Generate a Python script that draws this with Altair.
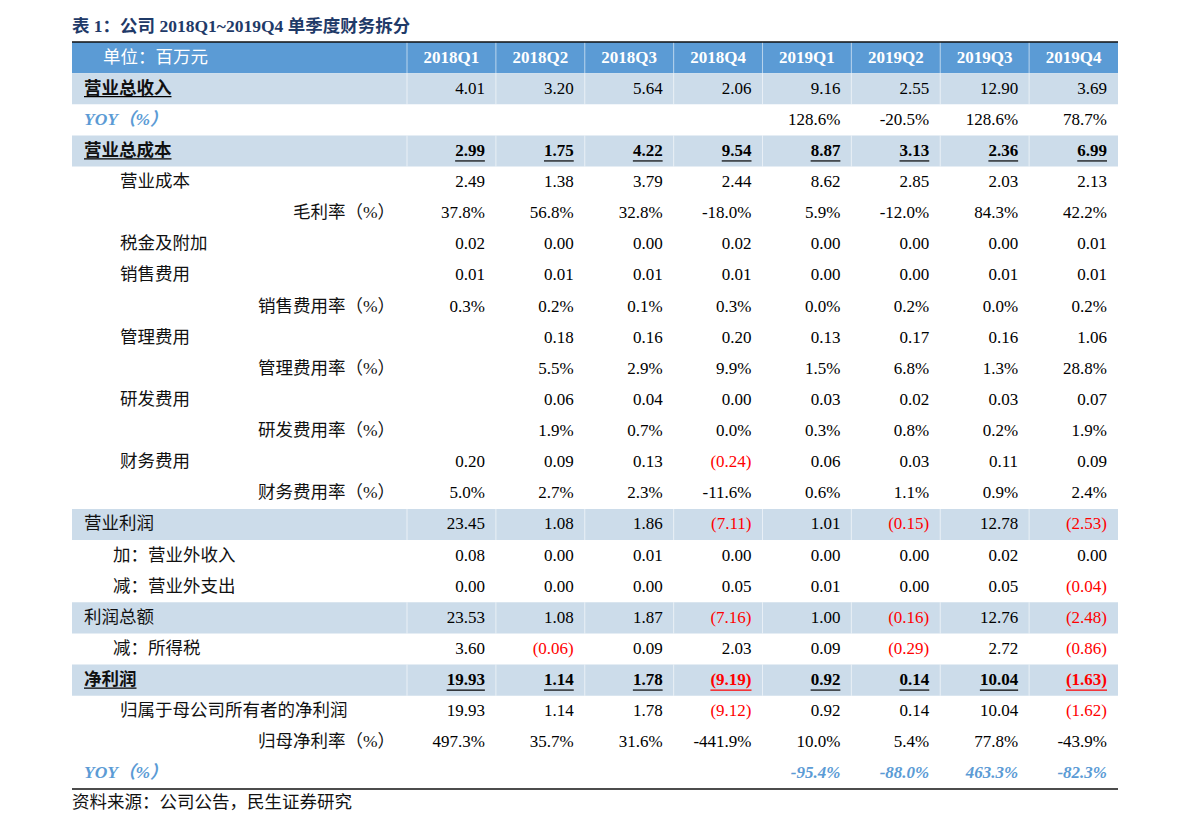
import altair as alt
import pandas as pd

# ---------------- data ----------------
quarters = ["2018Q1", "2018Q2", "2018Q3", "2018Q4", "2019Q1", "2019Q2", "2019Q3", "2019Q4"]
title_text = "表 1：公司 2018Q1~2019Q4 单季度财务拆分"
unit_text = "单位：百万元"
source_text = "资料来源：公司公告，民生证券研究"

N = None
revenue = [4.01, 3.20, 5.64, 2.06, 9.16, 2.55, 12.90, 3.69]
revenue_yoy = [N, N, N, N, 128.6, -20.5, 128.6, 78.7]
total_cost = [2.99, 1.75, 4.22, 9.54, 8.87, 3.13, 2.36, 6.99]
op_cost = [2.49, 1.38, 3.79, 2.44, 8.62, 2.85, 2.03, 2.13]
gross_margin = [37.8, 56.8, 32.8, -18.0, 5.9, -12.0, 84.3, 42.2]
tax_surcharge = [0.02, 0.00, 0.00, 0.02, 0.00, 0.00, 0.00, 0.01]
selling_exp = [0.01, 0.01, 0.01, 0.01, 0.00, 0.00, 0.01, 0.01]
selling_ratio = [0.3, 0.2, 0.1, 0.3, 0.0, 0.2, 0.0, 0.2]
admin_exp = [N, 0.18, 0.16, 0.20, 0.13, 0.17, 0.16, 1.06]
admin_ratio = [N, 5.5, 2.9, 9.9, 1.5, 6.8, 1.3, 28.8]
rd_exp = [N, 0.06, 0.04, 0.00, 0.03, 0.02, 0.03, 0.07]
rd_ratio = [N, 1.9, 0.7, 0.0, 0.3, 0.8, 0.2, 1.9]
fin_exp = [0.20, 0.09, 0.13, -0.24, 0.06, 0.03, 0.11, 0.09]
fin_ratio = [5.0, 2.7, 2.3, -11.6, 0.6, 1.1, 0.9, 2.4]
op_profit = [23.45, 1.08, 1.86, -7.11, 1.01, -0.15, 12.78, -2.53]
nonop_income = [0.08, 0.00, 0.01, 0.00, 0.00, 0.00, 0.02, 0.00]
nonop_exp = [0.00, 0.00, 0.00, 0.05, 0.01, 0.00, 0.05, -0.04]
total_profit = [23.53, 1.08, 1.87, -7.16, 1.00, -0.16, 12.76, -2.48]
income_tax = [3.60, -0.06, 0.09, 2.03, 0.09, -0.29, 2.72, -0.86]
net_profit = [19.93, 1.14, 1.78, -9.19, 0.92, 0.14, 10.04, -1.63]
parent_np = [19.93, 1.14, 1.78, -9.12, 0.92, 0.14, 10.04, -1.62]
parent_margin = [497.3, 35.7, 31.6, -441.9, 10.0, 5.4, 77.8, -43.9]
np_yoy = [N, N, N, N, -95.4, -88.0, 463.3, -82.3]

# (label, indent level, kind, label style, value style, shaded, values)
rows = [
    ("营业总收入", "0", "amt", "ub", "n", True, revenue),
    ("YOY（%）", "0", "pct", "yoy", "n", False, revenue_yoy),
    ("营业总成本", "0", "amt", "ub", "b", True, total_cost),
    ("营业成本", "1", "amt", "n", "n", False, op_cost),
    ("毛利率（%）", "2", "pct", "n", "n", False, gross_margin),
    ("税金及附加", "1", "amt", "n", "n", False, tax_surcharge),
    ("销售费用", "1", "amt", "n", "n", False, selling_exp),
    ("销售费用率（%）", "2", "pct", "n", "n", False, selling_ratio),
    ("管理费用", "1", "amt", "n", "n", False, admin_exp),
    ("管理费用率（%）", "2", "pct", "n", "n", False, admin_ratio),
    ("研发费用", "1", "amt", "n", "n", False, rd_exp),
    ("研发费用率（%）", "2", "pct", "n", "n", False, rd_ratio),
    ("财务费用", "1", "amt", "n", "n", False, fin_exp),
    ("财务费用率（%）", "2", "pct", "n", "n", False, fin_ratio),
    ("营业利润", "0", "amt", "n", "n", True, op_profit),
    ("加：营业外收入", "1b", "amt", "n", "n", False, nonop_income),
    ("减：营业外支出", "1b", "amt", "n", "n", False, nonop_exp),
    ("利润总额", "0", "amt", "n", "n", True, total_profit),
    ("减：所得税", "1b", "amt", "n", "n", False, income_tax),
    ("净利润", "0", "amt", "ub", "b", True, net_profit),
    ("归属于母公司所有者的净利润", "1", "amt", "n", "n", False, parent_np),
    ("归母净利率（%）", "2", "pct", "n", "n", False, parent_margin),
    ("YOY（%）", "0", "pct", "yoy", "yoy", False, np_yoy),
]

# ---------------- layout / style ----------------
COLPX = 88.875
LABEL_W = 335 / COLPX
W = 1046
LAST_ROW = len(rows)          # index of last table row (header is 0)
SOURCE_ROW = len(rows) + 1    # row band used for the source note
NROWS = len(rows) + 2
ROWH = 31.125
H = NROWS * ROWH
NUM_FS = 17
CJK_FS = 17.5
FONT = "Liberation Serif, Noto Sans CJK SC"
HEADER_BLUE = "#5b9bd5"
SHADE = "#ccdcea"
YOY_BLUE = "#5b9bd5"
RED = "#ff0000"
INDENT = {"0": 12, "1": 48, "1b": 41}
LVL2_RIGHT = -12

XS = alt.Scale(domain=[-LABEL_W, 8], nice=False, zero=False)
YS = alt.Scale(domain=list(range(NROWS)), paddingInner=0, paddingOuter=0)


def X(f="x"):
    return alt.X(f"{f}:Q", scale=XS, axis=None)


def Y(bp=None):
    if bp is None:
        return alt.Y("r:O", scale=YS, axis=None)
    return alt.Y("r:O", scale=YS, axis=None, bandPosition=bp)


def fmt(v, kind):
    if v is None:
        return None, None
    if kind == "pct":
        return f"{v:.1f}%", "black"
    if v < 0:
        return f"({abs(v):.2f})", RED
    return f"{v:.2f}", "black"


def num_width(s, fs):
    w = 0.0
    for ch in s:
        if ch.isdigit():
            w += 0.5
        elif ch == ".":
            w += 0.25
        elif ch in "()-":
            w += 0.333
        elif ch == "%":
            w += 0.833
        else:
            w += 0.5
    return w * fs


def cjk_width(s, fs):
    return sum(fs if ord(ch) > 255 else 0.5 * fs for ch in s)


bg, div, labels, values, ulines = [], [], [], [], []

# header row
bg.append({"r": 0, "x": -LABEL_W, "x2": 8, "fill": HEADER_BLUE})
for b in range(0, 8):
    div.append({"r": 0, "x": b - 0.006, "x2": b + 0.006})
header_cells = [{"r": 0, "x": i + 0.5, "t": q} for i, q in enumerate(quarters)]
unit_cell = [{"r": 0, "x": -LABEL_W + 31 / COLPX, "t": unit_text}]

for ri, (lab, lvl, kind, lst, vst, shaded, vals) in enumerate(rows, start=1):
    if shaded:
        bg.append({"r": ri, "x": -LABEL_W, "x2": 8, "fill": SHADE})
        for b in range(0, 8):
            div.append({"r": ri, "x": b - 0.006, "x2": b + 0.006})
    if lvl == "2":
        lx = LVL2_RIGHT / COLPX
        align = "right"
    else:
        lx = -LABEL_W + INDENT[lvl] / COLPX
        align = "left"
    labels.append({"r": ri, "x": lx, "t": lab, "align": align, "style": lst})
    if lst == "ub":
        w = cjk_width(lab, CJK_FS)
        ulines.append({"r": ri, "x": lx, "x2": lx + w / COLPX, "kind": "label"})
    for ci, v in enumerate(vals):
        s, col = fmt(v, kind)
        if s is None:
            continue
        vx = ci + 1 - 11 / COLPX
        values.append({"r": ri, "x": vx, "t": s, "col": col, "style": vst})
        if vst == "b":
            w = num_width(s, NUM_FS)
            ulines.append({"r": ri, "x": vx - w / COLPX, "x2": vx, "kind": "value", "col": col})

bg_df = pd.DataFrame(bg)
div_df = pd.DataFrame(div)
lab_df = pd.DataFrame(labels)
val_df = pd.DataFrame(values)
ul_df = pd.DataFrame(ulines)
ul_df["col"] = ul_df["col"].fillna("black")

layers = []

layers.append(
    alt.Chart(bg_df).mark_rect().encode(x=X(), x2="x2:Q", y=Y(), color=alt.Color("fill:N", scale=None))
)
layers.append(
    alt.Chart(div_df).mark_rect(color="white", opacity=0.55).encode(x=X(), x2="x2:Q", y=Y())
)
# frame lines
frame_top = pd.DataFrame([{"r": 0, "x": -LABEL_W, "x2": 8}])
frame_bot = pd.DataFrame([{"r": LAST_ROW, "x": -LABEL_W, "x2": 8}])
layers.append(
    alt.Chart(frame_top).mark_rule(color="#111111", strokeWidth=1.6).encode(x=X(), x2="x2:Q", y=Y(0))
)
layers.append(
    alt.Chart(frame_bot).mark_rule(color="#111111", strokeWidth=1.6).encode(x=X(), x2="x2:Q", y=Y(1))
)

# header text
layers.append(
    alt.Chart(pd.DataFrame(header_cells)).mark_text(
        align="center", baseline="middle", font=FONT, fontSize=NUM_FS, fontWeight="bold", color="white"
    ).encode(x=X(), y=Y(), text="t:N")
)
layers.append(
    alt.Chart(pd.DataFrame(unit_cell)).mark_text(
        align="left", baseline="middle", font=FONT, fontSize=CJK_FS, color="white"
    ).encode(x=X(), y=Y(), text="t:N")
)

# labels
for align in ["left", "right"]:
    for style in ["n", "ub", "yoy"]:
        sub = lab_df[(lab_df["align"] == align) & (lab_df["style"] == style)]
        if sub.empty:
            continue
        kw = dict(align=align, baseline="middle", font=FONT, fontSize=CJK_FS, color="#111111")
        if style == "ub":
            kw["fontWeight"] = "bold"
        if style == "yoy":
            kw.update(fontWeight="bold", fontStyle="italic", color=YOY_BLUE)
        layers.append(alt.Chart(sub).mark_text(**kw).encode(x=X(), y=Y(), text="t:N"))

# values
for style in ["n", "b", "yoy"]:
    sub = val_df[val_df["style"] == style]
    if sub.empty:
        continue
    kw = dict(align="right", baseline="middle", font=FONT, fontSize=NUM_FS)
    if style == "b":
        kw["fontWeight"] = "bold"
    if style == "yoy":
        kw.update(fontWeight="bold", fontStyle="italic")
        enc_color = alt.value(YOY_BLUE)
    else:
        enc_color = alt.Color("col:N", scale=None)
    layers.append(alt.Chart(sub).mark_text(**kw).encode(x=X(), y=Y(), text="t:N", color=enc_color))

# underlines
layers.append(
    alt.Chart(ul_df[ul_df["kind"] == "label"]).mark_rule(strokeWidth=1.2, yOffset=8).encode(
        x=X(), x2="x2:Q", y=Y(), color=alt.Color("col:N", scale=None)
    )
)
layers.append(
    alt.Chart(ul_df[ul_df["kind"] == "value"]).mark_rule(strokeWidth=1.2, yOffset=10).encode(
        x=X(), x2="x2:Q", y=Y(), color=alt.Color("col:N", scale=None)
    )
)

# title and source
layers.append(
    alt.Chart(pd.DataFrame([{"t": title_text}])).mark_text(
        align="left", baseline="middle", font=FONT, fontSize=17.5, fontWeight="bold", color="#1f3a68"
    ).encode(x=alt.value(0), y=alt.value(-15), text="t:N")
)
layers.append(
    alt.Chart(pd.DataFrame([{"r": SOURCE_ROW, "x": -LABEL_W, "t": source_text}])).mark_text(
        align="left", baseline="middle", font=FONT, fontSize=CJK_FS, color="#111111", dy=-2
    ).encode(x=X(), y=Y(), text="t:N")
)

chart = (
    alt.layer(*layers)
    .properties(
        width=W,
        height=H,
        autosize=alt.AutoSizeParams(type="none"),
        padding={"left": 64, "top": 34, "right": 65, "bottom": 5},
    )
    .configure_view(stroke=None)
)

chart.save("out.html", embed_options={"renderer": "svg", "actions": False})
